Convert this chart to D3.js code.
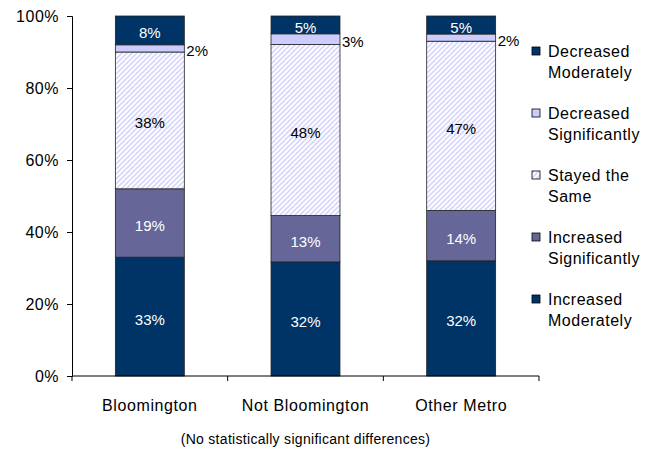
<!DOCTYPE html>
<html><head><meta charset="utf-8">
<script src="https://cdn.jsdelivr.net/npm/d3@7"></script>
<style>
body{margin:0;background:#fff;}
text{font-family:"Liberation Sans",Arial,sans-serif;}
</style></head>
<body><svg id="c" width="660" height="451"></svg>
<script>
const categories = ["Bloomington", "Not Bloomington", "Other Metro"];
const seriesNames = ["Increased Moderately", "Increased Significantly", "Stayed the Same", "Decreased Significantly", "Decreased Moderately"];
const legendLabels = [["Increased","Moderately"],["Increased","Significantly"],["Stayed the","Same"],["Decreased","Significantly"],["Decreased","Moderately"]];
const increasedModerately = [33, 32, 32];
const increasedSignificantly = [19, 13, 14];
const stayedSame = [38, 48, 47];
const decreasedSignificantly = [2, 3, 2];
const decreasedModerately = [8, 5, 5];
const yTicks = [0, 0.2, 0.4, 0.6, 0.8, 1.0];
const footnote = "(No statistically significant differences)";

const seriesValues = [increasedModerately, increasedSignificantly, stayedSame, decreasedSignificantly, decreasedModerately];
const fills = ["#003366", "#666699", "url(#hatch)", "#CCCCFF", "#003366"];
const labelColors = ["#fff", "#fff", "#000", "#000", "#fff"];

const rows = categories.map((c, i) => {
  const r = {cat: c};
  seriesNames.forEach((s, j) => r[s] = seriesValues[j][i]);
  return r;
});

const svg = d3.select("#c");
const defs = svg.append("defs");
const pat = defs.append("pattern").attr("id", "hatch").attr("patternUnits", "userSpaceOnUse")
  .attr("width", 5).attr("height", 5);
pat.append("rect").attr("width", 5).attr("height", 5).attr("fill", "#fff");
pat.append("path").attr("d", "M-1,1 l2,-2 M0,5 l5,-5 M4,6 l2,-2").attr("stroke", "#D6D6FC").attr("stroke-width", 1.6);

const x0 = 72, x1 = 539, yTop = 16, yBot = 376;
const x = d3.scaleBand().domain(categories).range([x0, x1]).paddingInner(0.557).paddingOuter(0.2785);
const y = d3.scaleLinear().domain([0, 1]).range([yBot, yTop]);

const stack = d3.stack().keys(seriesNames).offset(d3.stackOffsetExpand);
const layers = stack(rows);

const g = svg.append("g");
layers.forEach((layer, li) => {
  g.selectAll(null).data(layer).enter().append("rect")
    .attr("x", d => x(d.data.cat))
    .attr("width", x.bandwidth())
    .attr("y", d => y(d[1]))
    .attr("height", d => y(d[0]) - y(d[1]))
    .attr("fill", fills[li])
    .attr("stroke", "#222").attr("stroke-width", 0.8);
});

// labels
layers.forEach((layer, li) => {
  g.selectAll(null).data(layer).enter().append("text")
    .attr("x", d => li === 3 ? x(d.data.cat) + x.bandwidth() + 2 : x(d.data.cat) + x.bandwidth() / 2)
    .attr("y", d => (y(d[0]) + y(d[1])) / 2 + 8)
    .attr("text-anchor", li === 3 ? "start" : "middle")
    .attr("font-size", 15)
    .attr("fill", labelColors[li])
    .text(d => d.data[layer.key] + "%");
});

// y axis
const yAxis = d3.axisLeft(y).tickValues(yTicks).tickFormat(d3.format(".0%")).tickSize(5).tickPadding(8);
const ya = svg.append("g").attr("transform", `translate(${x0},0)`).call(yAxis);
ya.select(".domain").attr("stroke", "#000");
ya.selectAll(".tick line").attr("stroke", "#000");
ya.selectAll(".tick text").attr("font-size", 16).attr("letter-spacing", "0.5px").attr("fill", "#000")
  .attr("font-family", "Liberation Sans, Arial, sans-serif");

// x axis
const xa = svg.append("g").attr("transform", `translate(0,${yBot})`);
xa.append("line").attr("x1", x0).attr("x2", x1).attr("stroke", "#000");
const bounds = d3.range(categories.length + 1).map(i => x0 + i * x.step());
xa.selectAll(null).data(bounds).enter().append("line")
  .attr("x1", d => d).attr("x2", d => d).attr("y1", 0).attr("y2", 5).attr("stroke", "#000");
xa.selectAll(null).data(categories).enter().append("text")
  .attr("x", d => x(d) + x.bandwidth() / 2)
  .attr("y", 35)
  .attr("text-anchor", "middle")
  .attr("font-size", 16).attr("letter-spacing", "0.6px")
  .text(d => d);

svg.append("text").attr("x", (x0 + x1) / 2).attr("y", 444).attr("text-anchor", "middle")
  .attr("font-size", 14).attr("letter-spacing", "0.3px").text(footnote);

// legend (reverse order)
const legendOrder = d3.range(seriesNames.length).reverse();
const lg = svg.append("g");
legendOrder.forEach((si, k) => {
  const by = 57 + k * 62;
  lg.append("rect").attr("x", 532).attr("y", by - 10).attr("width", 8).attr("height", 8)
    .attr("fill", fills[si]).attr("stroke", "#000").attr("stroke-width", 0.8);
  const t = lg.append("text").attr("x", 548).attr("y", by).attr("font-size", 16).attr("letter-spacing", "0.5px");
  legendLabels[si].forEach((line, li) => {
    t.append("tspan").attr("x", 548).attr("dy", li === 0 ? 0 : 21).text(line);
  });
});
</script></body></html>
